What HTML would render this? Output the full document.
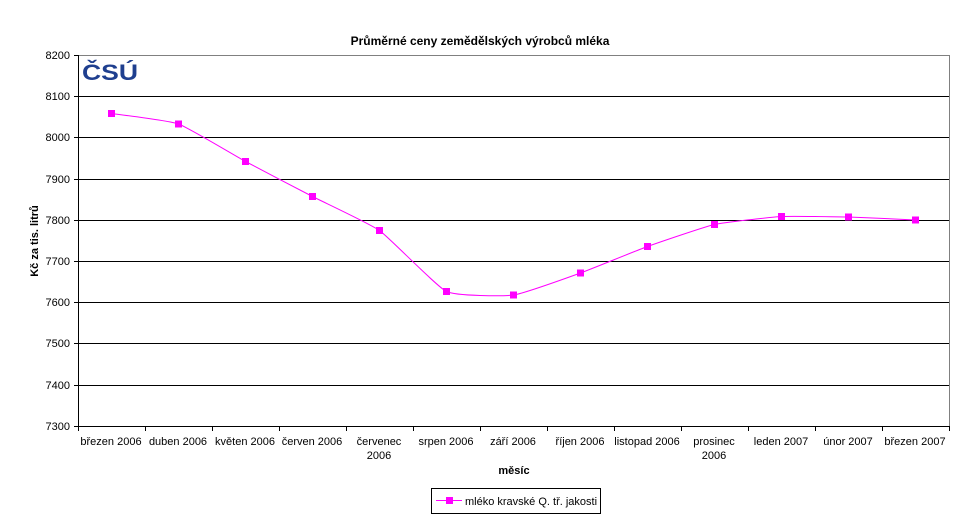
<!DOCTYPE html>
<html><head><meta charset="utf-8"><style>
body{margin:0;background:#fff;}
svg{display:block;font-family:"Liberation Sans",Arial,sans-serif;}
</style></head><body>
<svg id="s" width="960" height="531" viewBox="0 0 960 531" xmlns="http://www.w3.org/2000/svg">
<rect width="960" height="531" fill="#fff"/>
<text x="480" y="45" text-anchor="middle" font-size="12" font-weight="bold">Průměrné ceny zemědělských výrobců mléka</text>
<g stroke="#000" stroke-width="1">
<line x1="78" y1="96.5" x2="949" y2="96.5"/>
<line x1="78" y1="137.5" x2="949" y2="137.5"/>
<line x1="78" y1="179.5" x2="949" y2="179.5"/>
<line x1="78" y1="220.5" x2="949" y2="220.5"/>
<line x1="78" y1="261.5" x2="949" y2="261.5"/>
<line x1="78" y1="302.5" x2="949" y2="302.5"/>
<line x1="78" y1="343.5" x2="949" y2="343.5"/>
<line x1="78" y1="385.5" x2="949" y2="385.5"/>
</g>
<polyline points="78.5,55.5 949.5,55.5 949.5,426.5" fill="none" stroke="#808080"/>
<g stroke="#000">
<line x1="78.5" y1="55" x2="78.5" y2="427"/>
<line x1="74" y1="426.5" x2="949" y2="426.5"/>
</g>
<g id="ticks" stroke="#000"></g>
<g font-size="11" text-anchor="end">
<text x="70" y="59">8200</text><text x="70" y="100">8100</text><text x="70" y="141">8000</text>
<text x="70" y="183">7900</text><text x="70" y="224">7800</text><text x="70" y="265">7700</text>
<text x="70" y="306">7600</text><text x="70" y="347">7500</text><text x="70" y="389">7400</text>
<text x="70" y="430">7300</text>
</g>
<g font-size="11" text-anchor="middle">
<text x="111" y="445">březen 2006</text><text x="178" y="445">duben 2006</text>
<text x="245" y="445">květen 2006</text><text x="312" y="445">červen 2006</text>
<text x="379" y="445">červenec</text><text x="379" y="459">2006</text>
<text x="446" y="445">srpen 2006</text><text x="513" y="445">září 2006</text>
<text x="580" y="445">říjen 2006</text><text x="647" y="445">listopad 2006</text>
<text x="714" y="445">prosinec</text><text x="714" y="459">2006</text>
<text x="781" y="445">leden 2007</text><text x="848" y="445">únor 2007</text>
<text x="915" y="445">březen 2007</text>
</g>
<text x="514" y="474" text-anchor="middle" font-size="11" font-weight="bold">měsíc</text>
<text transform="translate(38,241) rotate(-90)" text-anchor="middle" font-size="11" font-weight="bold">Kč za tis. litrů</text>
<text x="82" y="80" font-size="22" font-weight="bold" fill="#1f3f8f" textLength="56" lengthAdjust="spacingAndGlyphs">ČSÚ</text>
<path id="ln" fill="none" stroke="#ff00ff" stroke-width="1"/>
<g id="mk" fill="#ff00ff"></g>
<rect x="431.5" y="488.5" width="169" height="25" fill="#fff" stroke="#000"/>
<line x1="436" y1="500.5" x2="462" y2="500.5" stroke="#ff00ff"/>
<rect x="446" y="497" width="7" height="7" fill="#ff00ff"/>
<text x="465" y="505" font-size="11">mléko kravské Q. tř. jakosti</text>
</svg>
<script>
var ns="http://www.w3.org/2000/svg";
var t=document.getElementById("ticks");
for(var k=0;k<=13;k++){var x=78.5+67*k;var l=document.createElementNS(ns,"line");l.setAttribute("x1",x);l.setAttribute("x2",x);l.setAttribute("y1",426);l.setAttribute("y2",431);t.appendChild(l);}
[55.5,96.5,137.5,179.5,220.5,261.5,302.5,343.5,385.5].forEach(function(y){var l=document.createElementNS(ns,"line");l.setAttribute("x1",74);l.setAttribute("x2",78);l.setAttribute("y1",y);l.setAttribute("y2",y);t.appendChild(l);});
var ys=[113.5,124,161.5,196.5,230.5,291.5,295,273,246.5,224.5,216.5,217,220];
var p=ys.map(function(y,i){return [111.5+67*i,y];});
var d="M"+p[0][0]+","+p[0][1];
var f=14;
for(var i=0;i<p.length-1;i++){var p0=p[i-1]||p[i],p1=p[i],p2=p[i+1],p3=p[i+2]||p[i+1];
var c1=[p1[0]+(p2[0]-p0[0])/f,p1[1]+(p2[1]-p0[1])/f],c2=[p2[0]-(p3[0]-p1[0])/f,p2[1]-(p3[1]-p1[1])/f];
d+=" C"+c1+" "+c2+" "+p2;}
document.getElementById("ln").setAttribute("d",d);
var m=document.getElementById("mk");
p.forEach(function(q){var r=document.createElementNS(ns,"rect");r.setAttribute("x",q[0]-3.5);r.setAttribute("y",q[1]-3.5);r.setAttribute("width",7);r.setAttribute("height",7);m.appendChild(r);});
</script>
</body></html>
